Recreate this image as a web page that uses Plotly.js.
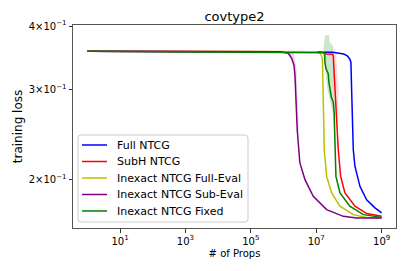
<!DOCTYPE html>
<html>
<head>
<meta charset="utf-8">
<script src="https://cdn.plot.ly/plotly-3.0.1.min.js"></script>
<style>html,body{margin:0;padding:0;background:#fff;}#chart{width:407px;height:271px;}</style>
</head>
<body>
<div id="chart"></div>
<script>
// ---- data (x = # of props, y = training loss) ----
const fullX = [1, 2.0e7, 3.16e7, 6.92e7, 8.91e7, 1.07e8, 1.15e8, 1.21e8, 1.29e8, 1.36e8, 1.53e8, 2.17e8, 3.48e8, 6.25e8, 1e9];
const fullY = [0.357, 0.3565, 0.3555, 0.3528, 0.350, 0.3445, 0.34, 0.30, 0.26, 0.2289, 0.2123, 0.1941, 0.1827, 0.1761, 0.1722];

const subhX = [1, 1.2e7, 1.74e7, 2.0e7, 3.16e7, 3.32e7, 3.47e7, 3.74e7, 3.98e7, 4.72e7, 5.58e7, 7.57e7, 1.53e8, 3.48e8, 1e9];
const subhY = [0.357, 0.3565, 0.3545, 0.3528, 0.3525, 0.35, 0.33, 0.30, 0.27, 0.2289, 0.2030, 0.1884, 0.1774, 0.1716, 0.1695];

const fullEvalX = [1, 1e7, 1.30e7, 1.45e7, 1.55e7, 1.58e7, 1.64e7, 1.76e7, 2.08e7, 2.96e7, 5.32e7, 1.36e8, 3.48e8, 1e9];
const fullEvalY = [0.357, 0.3565, 0.3539, 0.350, 0.344, 0.32, 0.283, 0.2289, 0.2030, 0.1884, 0.1774, 0.1708, 0.1687, 0.1683];

const subEvalX = [1, 8e5, 1.4e6, 1.77e6, 2.08e6, 2.24e6, 2.4e6, 2.63e6, 3.16e6, 4.53e6, 8.11e6, 2.08e7, 6.71e7, 1.72e8, 1e9];
const subEvalY = [0.357, 0.3565, 0.3539, 0.346, 0.3357, 0.32, 0.2868, 0.25, 0.2157, 0.2, 0.1855, 0.1747, 0.1695, 0.1683, 0.1683];

const fixedX = [1, 1.73e7, 1.82e7, 1.85e7, 2.0e7, 2.33e7, 2.45e7, 2.6e7, 2.9e7, 3.32e7, 3.55e7, 3.65e7, 3.8e7, 4.01e7, 5.32e7, 1.07e8, 2.74e8, 1e9];
const fixedY = [0.357, 0.3549, 0.350, 0.3388, 0.330, 0.3229, 0.31, 0.30, 0.29, 0.284, 0.27, 0.25, 0.2289, 0.2030, 0.1884, 0.1774, 0.1708, 0.1687];

// spread bands (outline of the shaded regions)
const fixedBandX = [1.66e7, 1.72e7, 1.8e7, 1.95e7, 2.45e7, 2.55e7, 2.9e7, 3.2e7, 3.4e7, 3.5e7, 3.56e7, 3.65e7, 3.75e7, 3.5e7, 3.2e7, 2.7e7, 2.2e7, 1.85e7, 1.72e7, 1.66e7];
const fixedBandY = [0.356, 0.37, 0.38, 0.3845, 0.3845, 0.372, 0.369, 0.366, 0.362, 0.35, 0.32, 0.28, 0.25, 0.25, 0.27, 0.285, 0.30, 0.33, 0.35, 0.356];

const subhBandX = [3.4e7, 3.8e7, 4.1e7, 4.4e7, 4.9e7, 4.6e7, 4.4e7, 4.72e7, 3.98e7, 3.74e7, 3.47e7, 3.32e7, 3.4e7];
const subhBandY = [0.356, 0.362, 0.35, 0.32, 0.30, 0.28, 0.25, 0.23, 0.27, 0.30, 0.33, 0.35, 0.356];

const subEvalBandX = [1.4e6, 2.0e6, 2.5e6, 2.75e6, 2.9e6, 2.63e6, 2.4e6, 2.24e6, 2.08e6, 1.77e6, 1.4e6];
const subEvalBandY = [0.357, 0.357, 0.33, 0.28, 0.25, 0.25, 0.2868, 0.32, 0.3357, 0.346, 0.357];

const seriesNames = ['Full NTCG', 'SubH NTCG', 'Inexact NTCG Full-Eval', 'Inexact NTCG Sub-Eval', 'Inexact NTCG Fixed'];
const xTickVals = [1e1, 1e3, 1e5, 1e7, 1e9];
const xTickText = ['10<sup>1</sup>', '10<sup>3</sup>', '10<sup>5</sup>', '10<sup>7</sup>', '10<sup>9</sup>'];
const yTickVals = [0.2, 0.3, 0.4];
const yTickText = ['2×10<sup>−1</sup>', '3×10<sup>−1</sup>', '4×10<sup>−1</sup>'];

const colors = ['#0000ff', '#ff0000', '#bfbf00', '#800080', '#008000'];
const FONT = 'DejaVu Sans, sans-serif';

function band(x, y, fill) {
  return {x: x, y: y, type: 'scatter', mode: 'lines', fill: 'toself', fillcolor: fill,
          line: {width: 0, color: fill}, showlegend: false, hoverinfo: 'skip'};
}
function line(x, y, i) {
  return {x: x, y: y, type: 'scatter', mode: 'lines', name: seriesNames[i], showlegend: false,
          line: {color: colors[i], width: 1.5}};
}

const data = [
  band(subEvalBandX, subEvalBandY, 'rgba(128,0,128,0.16)'),
  band(subhBandX, subhBandY, 'rgba(255,0,0,0.15)'),
  band(fixedBandX, fixedBandY, 'rgba(0,128,0,0.2)'),
  line(fullX, fullY, 0),
  line(subhX, subhY, 1),
  line(fullEvalX, fullEvalY, 2),
  line(subEvalX, subEvalY, 3),
  line(fixedX, fixedY, 4)
];

// ---- legend drawn in paper coordinates (plot area 323 x 203 px) ----
const PW = 323, PH = 203;
const px = v => (v - 73) / PW;
const py = v => (228 - v) / PH;
const bx0 = px(78), bx1 = px(248), by0 = py(222), by1 = py(135);
const rx = 3 / PW, ry = 3 / PH;
const boxPath = `M ${bx0 + rx},${by0} L ${bx1 - rx},${by0} Q ${bx1},${by0} ${bx1},${by0 + ry} ` +
  `L ${bx1},${by1 - ry} Q ${bx1},${by1} ${bx1 - rx},${by1} L ${bx0 + rx},${by1} ` +
  `Q ${bx0},${by1} ${bx0},${by1 - ry} L ${bx0},${by0 + ry} Q ${bx0},${by0} ${bx0 + rx},${by0} Z`;
const rowY = [145, 161.5, 178, 194.5, 211];
const shapes = [{type: 'path', xref: 'paper', yref: 'paper', path: boxPath,
                 fillcolor: 'rgba(255,255,255,0.85)', line: {color: '#cccccc', width: 1}, layer: 'above'}];
const annotations = [];
seriesNames.forEach((name, i) => {
  shapes.push({type: 'line', xref: 'paper', yref: 'paper', x0: px(82), x1: px(107), y0: py(rowY[i]), y1: py(rowY[i]),
               line: {color: colors[i], width: 1.5}, layer: 'above'});
  annotations.push({xref: 'paper', yref: 'paper', x: px(115), y: py(rowY[i]), xanchor: 'left', yanchor: 'middle',
                    text: name, showarrow: false, font: {family: FONT, size: 11, color: '#000'}});
});

const layout = {
  width: 407, height: 271,
  margin: {l: 73, r: 11, t: 25, b: 43},
  paper_bgcolor: '#fff', plot_bgcolor: '#fff',
  font: {family: FONT, color: '#000'},
  title: {text: 'covtype2', font: {family: FONT, size: 13, color: '#000'},
          xref: 'paper', x: 0.5, xanchor: 'center', yref: 'container', y: 1 - 16/271, yanchor: 'middle'},
  xaxis: {
    type: 'log', range: [-0.44, 9.44],
    tickvals: xTickVals, ticktext: xTickText,
    ticks: 'outside', ticklen: 3.5, tickwidth: 1, tickcolor: '#333',
    tickfont: {family: FONT, size: 10, color: '#000'},
    showgrid: false, zeroline: false,
    showline: true, mirror: true, linecolor: '#555', linewidth: 1,
    title: {text: '# of Props', font: {family: FONT, size: 10, color: '#000'}, standoff: 4}
  },
  yaxis: {
    type: 'log', range: [-0.7937, -0.3957],
    tickvals: yTickVals, ticktext: yTickText,
    ticks: 'outside', ticklen: 3.5, tickwidth: 1, tickcolor: '#333',
    tickfont: {family: FONT, size: 10, color: '#000'},
    showgrid: false, zeroline: false,
    showline: true, mirror: true, linecolor: '#555', linewidth: 1,
    title: {text: 'training loss', font: {family: FONT, size: 12, color: '#000'}, standoff: 3}
  },
  shapes: shapes,
  annotations: annotations,
  showlegend: false
};

Plotly.newPlot('chart', data, layout, {staticPlot: true, displayModeBar: false});
</script>
</body>
</html>
